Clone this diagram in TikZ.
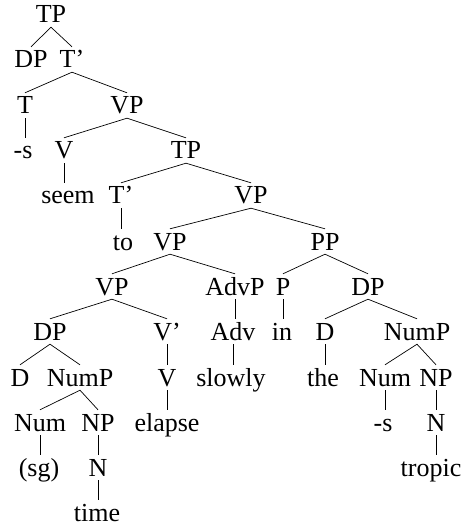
\documentclass[tikz,border=0pt]{standalone}
\usepackage{fontspec}
\setmainfont{Liberation Serif}
\usepackage{tikz}

\begin{document}
\begin{tikzpicture}[x=1pt,y=-1pt,
  lbl/.style={anchor=base, inner xsep=1pt, inner ysep=4pt, text height=17pt, text depth=0pt,
    font=\fontsize{26}{30}\selectfont},
  branch/.style={line width=0.7pt}]

\useasboundingbox (0,0) rectangle (466,529);

\node[lbl] (tp) at (51,23) {TP};
\node[lbl] (dp1) at (31,68) {DP};
\node[lbl] (tbar1) at (72,68) {T'};
\node[lbl] (t) at (25,114) {T};
\node[lbl] (vp1) at (127,114) {VP};
\node[lbl] (s1) at (23,159) {-s};
\node[lbl] (v1) at (64,159) {V};
\node[lbl] (tp2) at (186,159) {TP};
\node[lbl] (seem) at (68,204) {seem};
\node[lbl] (tbar2) at (121,204) {T'};
\node[lbl] (vp2) at (251,204) {VP};
\node[lbl] (to) at (123,250) {to};
\node[lbl] (vp3) at (170,250) {VP};
\node[lbl] (pp) at (325,250) {PP};
\node[lbl] (vp4) at (112,295) {VP};
\node[lbl] (advp) at (235,295) {AdvP};
\node[lbl] (p) at (283,295) {P};
\node[lbl] (dp2) at (368,295) {DP};
\node[lbl] (dp3) at (50,340) {DP};
\node[lbl] (vbar) at (167,340) {V'};
\node[lbl] (adv) at (233,340) {Adv};
\node[lbl] (in) at (282,340) {in};
\node[lbl] (d1) at (325,340) {D};
\node[lbl] (nump1) at (417,340) {NumP};
\node[lbl] (d2) at (20,386) {D};
\node[lbl] (nump2) at (80,386) {NumP};
\node[lbl] (v2) at (167,386) {V};
\node[lbl] (slowly) at (231,386) {slowly};
\node[lbl] (the) at (323,386) {the};
\node[lbl] (num1) at (385,386) {Num};
\node[lbl] (np1) at (436,386) {NP};
\node[lbl] (num2) at (40,431) {Num};
\node[lbl] (np2) at (98,431) {NP};
\node[lbl] (elapse) at (167,431) {elapse};
\node[lbl] (s2) at (383,431) {-s};
\node[lbl] (n1) at (436,431) {N};
\node[lbl] (sg) at (39,476) {(sg)};
\node[lbl] (n2) at (98,476) {N};
\node[lbl] (tropic) at (431,476) {tropic};
\node[lbl] (time) at (97,521) {time};

\draw[branch] (tp.south) -- (dp1.north);
\draw[branch] (tp.south) -- (tbar1.north);
\draw[branch] (tbar1.south) -- (t.north);
\draw[branch] (tbar1.south) -- (vp1.north);
\draw[branch] (t.south) -- (t.south |- s1.north);
\draw[branch] (vp1.south) -- (v1.north);
\draw[branch] (vp1.south) -- (tp2.north);
\draw[branch] (v1.south) -- (v1.south |- seem.north);
\draw[branch] (tp2.south) -- (tbar2.north);
\draw[branch] (tp2.south) -- (vp2.north);
\draw[branch] (tbar2.south) -- (tbar2.south |- to.north);
\draw[branch] (vp2.south) -- (vp3.north);
\draw[branch] (vp2.south) -- (pp.north);
\draw[branch] (vp3.south) -- (vp4.north);
\draw[branch] (vp3.south) -- (advp.north);
\draw[branch] (pp.south) -- (p.north);
\draw[branch] (pp.south) -- (dp2.north);
\draw[branch] (vp4.south) -- (dp3.north);
\draw[branch] (vp4.south) -- (vbar.north);
\draw[branch] (advp.south) -- (advp.south |- adv.north);
\draw[branch] (p.south) -- (p.south |- in.north);
\draw[branch] (dp2.south) -- (d1.north);
\draw[branch] (dp2.south) -- (nump1.north);
\draw[branch] (dp3.south) -- (d2.north);
\draw[branch] (dp3.south) -- (nump2.north);
\draw[branch] (vbar.south) -- (vbar.south |- v2.north);
\draw[branch] (adv.south) -- (adv.south |- slowly.north);
\draw[branch] (d1.south) -- (d1.south |- the.north);
\draw[branch] (nump1.south) -- (num1.north);
\draw[branch] (nump1.south) -- (np1.north);
\draw[branch] (nump2.south) -- (num2.north);
\draw[branch] (nump2.south) -- (np2.north);
\draw[branch] (v2.south) -- (v2.south |- elapse.north);
\draw[branch] (num1.south) -- (num1.south |- s2.north);
\draw[branch] (np1.south) -- (np1.south |- n1.north);
\draw[branch] (num2.south) -- (num2.south |- sg.north);
\draw[branch] (np2.south) -- (np2.south |- n2.north);
\draw[branch] (n1.south) -- (n1.south |- tropic.north);
\draw[branch] (n2.south) -- (n2.south |- time.north);

\end{tikzpicture}
\end{document}
